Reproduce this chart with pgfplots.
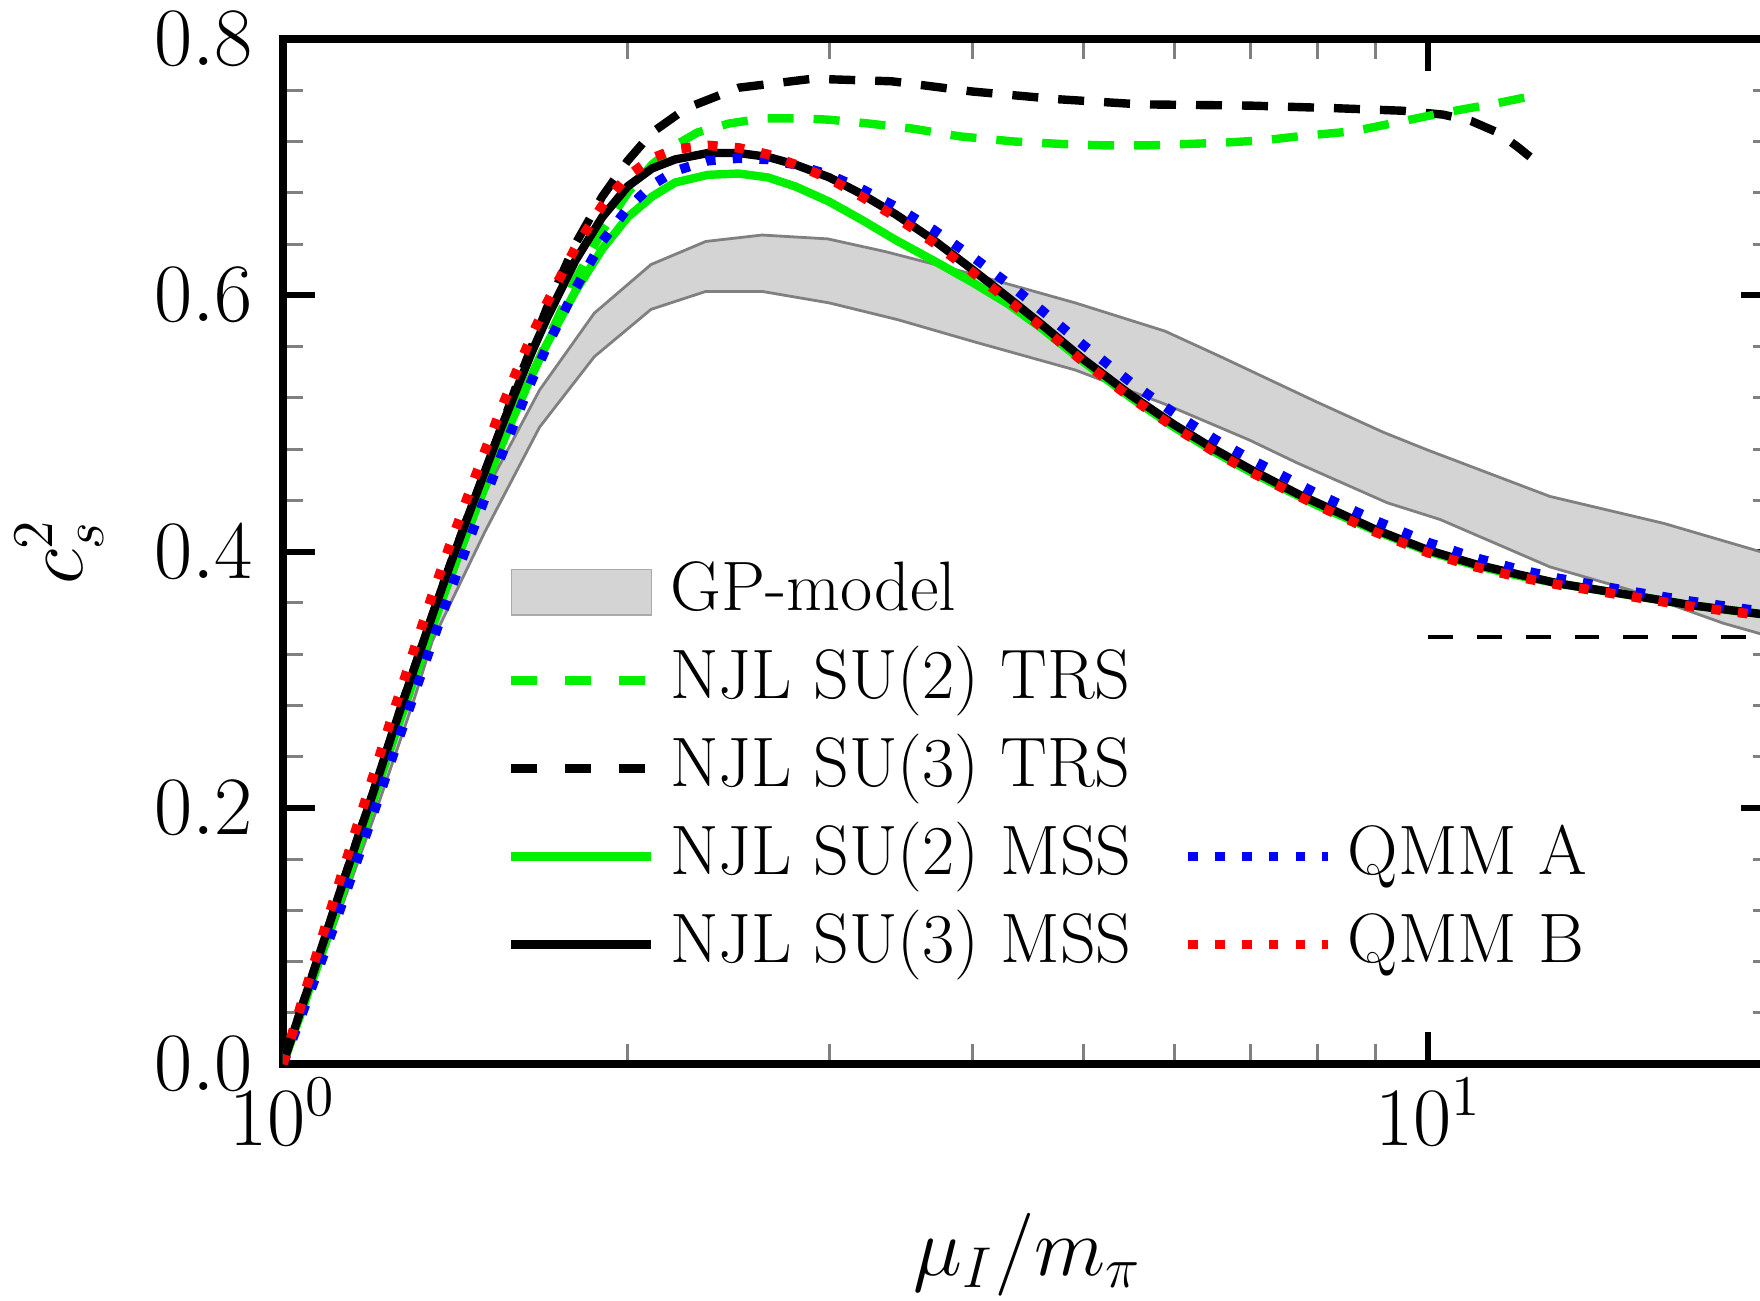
\documentclass[border=0pt]{standalone}
\usepackage{pgfplots}
\pgfplotsset{compat=1.18}
\definecolor{njlgreen}{RGB}{0,240,0}
\definecolor{bandfill}{RGB}{212,212,212}
\definecolor{bandedge}{RGB}{128,128,128}

\begin{document}
\begin{tikzpicture}
\begin{axis}[
  scale only axis,
  width=372.5pt, height=256.25pt,
  xmode=log, log basis x=10,
  xmin=1, xmax=20, ymin=0, ymax=0.8,
  xtick={1,10},
  minor xtick={2,3,4,5,6,7,8,9,20},
  ytick={0,0.2,0.4,0.6,0.8},
  minor y tick num=4,
  tick align=inside,
  axis line style={line width=1.8pt},
  major tick style={black, line width=1.5pt},
  minor tick style={bandedge, line width=0.75pt},
  major tick length=8pt, minor tick length=5pt,
  tick label style={font=\fontsize{20.8}{24}\selectfont},
  yticklabel style={xshift=-4pt, /pgf/number format/.cd, fixed, fixed zerofill, precision=1},
  xlabel={$\mu_I/m_\pi$},
  ylabel={$c_s^2$},
  label style={font=\fontsize{20.8}{24}\selectfont},
  xlabel style={at={(axis description cs:0.5,-0.186)}, anchor=center},
  ylabel style={at={(axis description cs:-0.150,0.5)}, anchor=center},
  legend columns=2,
  legend cell align=left,
  legend image code/.code={\draw[#1] (0pt,0pt) -- (35pt,0pt);},
  legend style={draw=none, fill=none, inner sep=0pt,
    at={(axis description cs:0.150,0.500)}, anchor=north west,
    font=\fontsize{17.5}{21}\selectfont, row sep=2pt,
    nodes={inner sep=1pt, text height=13.5pt, text depth=4.5pt},
    /tikz/every odd column/.append style={column sep=2.7pt},
    /tikz/every even column/.append style={column sep=12pt}},
]

% GP-model band (upper edge, then lower edge backwards)
\addplot[fill=bandfill, draw=bandedge, line width=0.7pt, forget plot] coordinates {
  (1.00,0.000) (1.10,0.102) (1.20,0.200) (1.30,0.295) (1.40,0.380)
  (1.494,0.4426) (1.675,0.526) (1.87,0.586) (2.096,0.624) (2.34,0.642)
  (2.62,0.647) (2.99,0.644) (3.36,0.634) (4.02,0.616) (4.92,0.594)
  (5.89,0.572) (6.59,0.552) (7.98,0.517) (9.14,0.493) (10.0,0.479)
  (12.77,0.443) (16.05,0.422) (20.0,0.397)
  (20.0,0.333) (18.1,0.344) (15.6,0.3646) (15.0,0.370) (12.77,0.388)
  (10.24,0.425) (9.21,0.438) (7.69,0.469) (6.98,0.487) (5.89,0.515)
  (4.92,0.5416) (4.02,0.5635) (3.44,0.581) (3.00,0.594) (2.62,0.603)
  (2.34,0.603) (2.096,0.589) (1.87,0.552) (1.675,0.497) (1.50,0.415)
  (1.35,0.330) (1.30,0.283) (1.20,0.192) (1.10,0.098) (1.00,0.000)
} -- cycle;

% x = 10 onwards: conformal limit 1/3
\addplot[black, line width=1pt, dash pattern=on 6.2pt off 6pt, forget plot] coordinates {
  (10,0.33333) (20,0.33333)
};

% NJL SU(3) TRS
\addplot[black, line width=2.1pt, dash pattern=on 6.5pt off 5pt, forget plot] coordinates {
  (1.00,0.000) (1.04,0.046) (1.08,0.090) (1.12,0.133) (1.16,0.174)
  (1.20,0.213) (1.25,0.262) (1.30,0.307) (1.35,0.350) (1.40,0.390)
  (1.45,0.427) (1.50,0.462) (1.55,0.496) (1.60,0.530) (1.70,0.590)
  (1.80,0.640) (1.90,0.677) (2.00,0.705) (2.10,0.727) (2.25,0.746)
  (2.50,0.762) (2.90,0.769) (3.40,0.767) (4.00,0.759) (4.75,0.753)
  (5.60,0.749) (7.00,0.748) (8.30,0.746) (9.50,0.744) (10.3,0.741)
  (10.9,0.736) (11.5,0.727) (11.96,0.716) (12.27,0.708)
};

% NJL SU(2) TRS
\addplot[njlgreen, line width=2.1pt, dash pattern=on 6.5pt off 5pt, forget plot] coordinates {
  (1.00,0.000) (1.04,0.043) (1.08,0.085) (1.12,0.126) (1.16,0.166)
  (1.20,0.207) (1.25,0.255) (1.30,0.299) (1.35,0.341) (1.40,0.380)
  (1.45,0.416) (1.50,0.450) (1.55,0.482) (1.60,0.511) (1.70,0.564)
  (1.80,0.612) (1.90,0.650) (2.00,0.680) (2.10,0.702) (2.20,0.717)
  (2.30,0.727) (2.45,0.734) (2.62,0.738) (2.85,0.738) (3.00,0.737)
  (3.25,0.734) (3.55,0.730) (3.90,0.724) (4.35,0.720) (4.80,0.718)
  (5.20,0.717) (5.70,0.717) (6.60,0.719) (7.20,0.721) (7.70,0.724)
  (8.60,0.728) (9.40,0.735) (10.0,0.740) (10.7,0.745) (11.5,0.750)
  (12.4,0.756)
};

% NJL SU(2) MSS
\addplot[njlgreen, line width=2.1pt, forget plot] coordinates {
  (1.00,0.000) (1.04,0.043) (1.08,0.085) (1.12,0.126) (1.16,0.166)
  (1.20,0.207) (1.25,0.255) (1.30,0.299) (1.35,0.341) (1.40,0.380)
  (1.45,0.416) (1.50,0.450) (1.55,0.482) (1.60,0.511) (1.65,0.538)
  (1.70,0.562) (1.80,0.603) (1.90,0.636) (2.00,0.661) (2.10,0.677)
  (2.20,0.688) (2.35,0.694) (2.50,0.695) (2.65,0.692) (2.80,0.685)
  (3.00,0.673) (3.20,0.659) (3.43,0.643) (3.70,0.627) (4.00,0.610)
  (4.30,0.593) (4.60,0.574) (5.00,0.548) (5.50,0.520) (6.00,0.497)
  (6.50,0.478) (7.00,0.462) (8.00,0.436) (9.00,0.416) (10.0,0.400)
  (11.0,0.389) (12.0,0.381) (13.0,0.375) (15.0,0.366) (17.0,0.358)
  (20.0,0.350)
};

% NJL SU(3) MSS
\addplot[black, line width=2.1pt, forget plot] coordinates {
  (1.00,0.000) (1.04,0.046) (1.08,0.090) (1.12,0.133) (1.16,0.174)
  (1.20,0.213) (1.25,0.262) (1.30,0.307) (1.35,0.350) (1.40,0.390)
  (1.45,0.427) (1.50,0.462) (1.55,0.496) (1.60,0.527) (1.65,0.556)
  (1.70,0.582) (1.80,0.627) (1.90,0.661) (2.00,0.685) (2.10,0.699)
  (2.20,0.706) (2.35,0.711) (2.50,0.711) (2.65,0.708) (2.80,0.702)
  (3.00,0.692) (3.20,0.679) (3.43,0.663) (3.70,0.643) (4.00,0.620)
  (4.30,0.598) (4.60,0.577) (5.00,0.550) (5.50,0.522) (6.00,0.499)
  (6.50,0.480) (7.00,0.464) (7.69,0.445) (8.00,0.438) (9.00,0.417)
  (10.0,0.401) (11.0,0.390) (12.0,0.382) (13.0,0.375) (15.0,0.366)
  (17.0,0.358) (20.0,0.350)
};

% QMM A
\addplot[blue, line width=2.4pt, dash pattern=on 2.4pt off 4.3pt, forget plot] coordinates {
  (1.00,0.000) (1.04,0.040) (1.08,0.080) (1.12,0.119) (1.16,0.158)
  (1.20,0.196) (1.25,0.243) (1.30,0.287) (1.35,0.329) (1.40,0.369)
  (1.45,0.406) (1.50,0.441) (1.55,0.474) (1.60,0.505) (1.65,0.534)
  (1.70,0.560) (1.80,0.605) (1.90,0.642) (2.00,0.668) (2.10,0.686)
  (2.20,0.697) (2.35,0.705) (2.50,0.707) (2.65,0.706) (2.80,0.702)
  (3.00,0.694) (3.20,0.683) (3.43,0.669) (3.70,0.651) (4.00,0.630)
  (4.30,0.609) (4.60,0.588) (5.00,0.561) (5.50,0.532) (6.00,0.508)
  (6.50,0.488) (7.00,0.472) (8.00,0.445) (9.00,0.424) (10.0,0.407)
  (11.0,0.395) (12.0,0.386) (13.0,0.379) (15.0,0.369) (17.0,0.361)
  (20.0,0.352)
};

% QMM B
\addplot[red, line width=2.4pt, dash pattern=on 2.4pt off 4.3pt, forget plot] coordinates {
  (1.00,0.000) (1.04,0.050) (1.08,0.097) (1.12,0.142) (1.16,0.185)
  (1.20,0.226) (1.25,0.276) (1.30,0.322) (1.35,0.366) (1.40,0.406)
  (1.45,0.443) (1.50,0.478) (1.55,0.511) (1.60,0.541) (1.65,0.569)
  (1.70,0.594) (1.80,0.637) (1.90,0.670) (2.00,0.693) (2.10,0.707)
  (2.20,0.714) (2.35,0.717) (2.50,0.715) (2.65,0.710) (2.80,0.702)
  (3.00,0.691) (3.20,0.677) (3.43,0.661) (3.70,0.641) (4.00,0.618)
  (4.30,0.596) (4.60,0.575) (5.00,0.548) (5.50,0.520) (6.00,0.497)
  (6.50,0.478) (7.00,0.462) (8.00,0.436) (9.00,0.415) (10.0,0.399)
  (11.0,0.388) (12.0,0.380) (13.0,0.374) (15.0,0.365) (17.0,0.357)
  (20.0,0.349)
};

% legend, laid out row by row
\addlegendimage{legend image code/.code={\draw[fill=bandfill, draw=bandfill!80!black] (0pt,-5.7pt) rectangle (35pt,5.7pt);}}
\addlegendentry{GP-model}
\addlegendimage{empty legend}
\addlegendentry{}
\addlegendimage{njlgreen, line width=2.1pt, dash pattern=on 6.5pt off 7pt}
\addlegendentry{NJL SU(2) TRS}
\addlegendimage{empty legend}
\addlegendentry{}
\addlegendimage{black, line width=2.1pt, dash pattern=on 6.5pt off 7pt}
\addlegendentry{NJL SU(3) TRS}
\addlegendimage{empty legend}
\addlegendentry{}
\addlegendimage{njlgreen, line width=2.1pt}
\addlegendentry{NJL SU(2) MSS}
\addlegendimage{blue, line width=2.4pt, dash pattern=on 2.4pt off 4.3pt}
\addlegendentry{QMM A}
\addlegendimage{black, line width=2.1pt}
\addlegendentry{NJL SU(3) MSS}
\addlegendimage{red, line width=2.4pt, dash pattern=on 2.4pt off 4.3pt}
\addlegendentry{QMM B}

\coordinate (bl) at (rel axis cs:0,0);
\coordinate (tl) at (rel axis cs:0,1);
\end{axis}
\pgfresetboundingbox
\path[use as bounding box] ([shift={(-70.75pt,-59pt)}]bl) rectangle ([shift={(369.25pt,9.75pt)}]tl);
\end{tikzpicture}
\end{document}
